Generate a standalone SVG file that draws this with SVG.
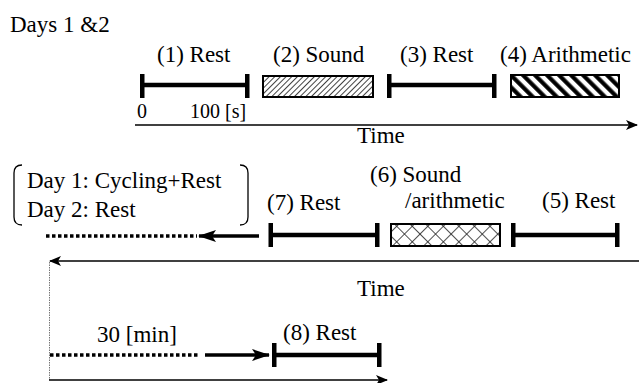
<svg xmlns="http://www.w3.org/2000/svg" width="639" height="383" viewBox="0 0 639 383">
<style>
text{font-family:"Liberation Serif","Times New Roman","DejaVu Serif",serif;fill:#000}
.big{font-size:23px}
.small{font-size:20px}
.bar{stroke:#000;stroke-width:4.5;fill:none}
.cap{fill:#000}
.axis{stroke:#000;stroke-width:1.3;fill:none}
.dot{stroke:#000;stroke-width:3.5;stroke-dasharray:3.5 2.5;fill:none}
.thick{stroke:#000;stroke-width:3.5;fill:none}
.vdot{stroke:#777;stroke-width:1;stroke-dasharray:1.5 1;fill:none}
.box{stroke:#000;stroke-width:2}
.brk{stroke:#000;stroke-width:1.3;fill:none}
</style>
<defs>
<pattern id="fine" width="4" height="4" patternUnits="userSpaceOnUse" patternTransform="rotate(45)">
<rect width="4" height="4" fill="#fff"/>
<line x1="0" y1="0" x2="0" y2="4" stroke="#111" stroke-width="1.6"/>
</pattern>
<pattern id="bold" width="8.5" height="8.5" patternUnits="userSpaceOnUse" patternTransform="rotate(-45)">
<rect width="8.5" height="8.5" fill="#fff"/>
<line x1="2.2" y1="0" x2="2.2" y2="8.5" stroke="#000" stroke-width="4.2"/>
</pattern>
<pattern id="cross" width="11" height="11" patternUnits="userSpaceOnUse" patternTransform="rotate(45)">
<rect width="11" height="11" fill="#fff"/>
<line x1="0" y1="0" x2="0" y2="11" stroke="#222" stroke-width="1.6"/>
<line x1="0" y1="0" x2="11" y2="0" stroke="#222" stroke-width="1.6"/>
</pattern>
<marker id="ah" viewBox="0 0 12 10" refX="11" refY="5" markerWidth="12" markerHeight="10" markerUnits="userSpaceOnUse" orient="auto">
<path d="M0,0 L12,5 L0,10 L3,5 Z" fill="#000"/>
</marker>
<marker id="ahb" viewBox="0 0 18 12" refX="17" refY="6" markerWidth="18" markerHeight="12" markerUnits="userSpaceOnUse" orient="auto">
<path d="M0,0 L18,6 L0,12 L4,6 Z" fill="#000"/>
</marker>
</defs>

<text id="title" class="big" x="10" y="32">Days 1 &amp;2</text>

<g id="rest1">
<text class="big" x="157" y="62">(1) Rest</text>
<line class="bar" x1="142" y1="85" x2="247" y2="85"/>
<rect class="cap" x="140" y="74" width="4.5" height="24"/>
<rect class="cap" x="245" y="74" width="4.5" height="24"/>
</g>
<g id="sound2">
<text class="big" x="273" y="62">(2) Sound</text>
<rect class="box" x="263" y="76" width="110" height="21" fill="url(#fine)"/>
</g>
<g id="rest3">
<text class="big" x="400" y="62">(3) Rest</text>
<line class="bar" x1="389" y1="85" x2="494" y2="85"/>
<rect class="cap" x="387" y="74" width="4.5" height="24"/>
<rect class="cap" x="492" y="74" width="4.5" height="24"/>
</g>
<g id="arith4">
<text class="big" x="500" y="62">(4) Arithmetic</text>
<rect class="box" x="511" y="75" width="108" height="22" fill="url(#bold)"/>
</g>
<g id="scale">
<text class="small" x="137" y="118">0</text>
<text class="small" x="190" y="118">100 [s]</text>
</g>
<g id="time1">
<text class="big" x="357" y="143">Time</text>
</g>

<g id="bracket">
<path class="brk" d="M22,165 Q14,165 14,173 L14,217 Q14,225 22,225"/>
<path class="brk" d="M240,165 Q248,165 248,173 L248,217 Q248,225 240,225"/>
<text class="big" x="27" y="188">Day 1: Cycling+Rest</text>
<text class="big" x="27" y="217">Day 2: Rest</text>
</g>
<g id="rest7">
<text class="big" x="267" y="210">(7) Rest</text>
<line class="bar" x1="271" y1="235" x2="377" y2="235"/>
<rect class="cap" x="268.5" y="223" width="4.5" height="24"/>
<rect class="cap" x="375" y="223" width="4.5" height="24"/>
</g>
<g id="sound6">
<text class="big" x="370" y="182">(6) Sound</text>
<text class="big" x="405" y="208">/arithmetic</text>
<rect class="box" x="391" y="224" width="109" height="22" fill="url(#cross)"/>
</g>
<g id="rest5">
<text class="big" x="542" y="208">(5) Rest</text>
<line class="bar" x1="513" y1="235" x2="618" y2="235"/>
<rect class="cap" x="511" y="223" width="4.5" height="24"/>
<rect class="cap" x="615" y="223" width="4.5" height="24"/>
</g>
<g id="time2">
<text class="big" x="357" y="296">Time</text>
</g>

<g id="rest8">
<text class="big" x="97" y="342">30 [min]</text>
<text class="big" x="283" y="340">(8) Rest</text>
<line class="bar" x1="274" y1="355" x2="379" y2="355"/>
<rect class="cap" x="272" y="343" width="4.5" height="24"/>
<rect class="cap" x="377" y="343" width="4.5" height="24"/>
</g>

<g id="connectors">
<line class="axis" x1="135" y1="125" x2="637" y2="125" marker-end="url(#ah)"/>
<line class="axis" x1="639" y1="261" x2="50" y2="261" marker-end="url(#ah)"/>
<line class="vdot" x1="49.5" y1="262" x2="49.5" y2="380"/>
<line class="axis" x1="49" y1="380" x2="387" y2="380" marker-end="url(#ah)"/>
<line class="dot" x1="46" y1="236" x2="197" y2="236"/>
<line class="thick" x1="259" y1="236" x2="199" y2="236" marker-end="url(#ahb)"/>
<line class="dot" x1="50" y1="355" x2="199" y2="355"/>
<line class="thick" x1="205" y1="355" x2="269" y2="355" marker-end="url(#ahb)"/>
</g>
</svg>
